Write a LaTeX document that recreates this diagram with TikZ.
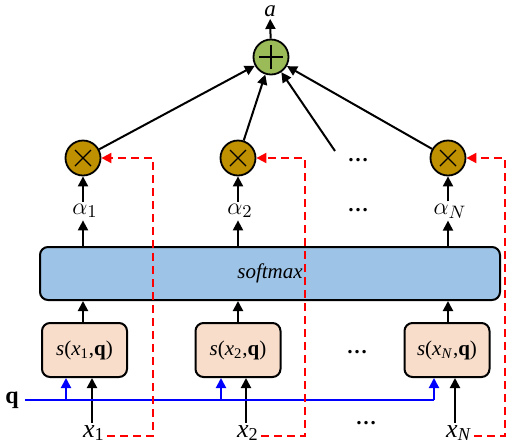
\documentclass[tikz,border=0pt]{standalone}
\usepackage{fontspec}
\setmainfont{Liberation Serif}
\usetikzlibrary{arrows.meta,calc}
\definecolor{plusgreen}{HTML}{9BBB59}
\definecolor{timesgold}{HTML}{BF9000}
\definecolor{smblue}{HTML}{9DC3E6}
\definecolor{speach}{HTML}{F8DDCB}
\definecolor{qblue}{HTML}{0000FF}
\definecolor{dred}{HTML}{FF0000}
\tikzset{
  arr/.style={line width=1pt,-{Triangle[length=5pt,width=5pt]}},
  bluearr/.style={line width=1pt,draw=qblue,-{Triangle[length=5pt,width=5pt]},qblue},
  reddash/.style={line width=1pt,draw=dred,dash pattern=on 4pt off 2.5pt,-{Triangle[length=5pt,width=5pt]},dred},
  mulnode/.style={circle,draw,line width=0.9pt,fill=timesgold,minimum size=17.5pt,inner sep=0pt},
  addnode/.style={circle,draw,line width=0.9pt,fill=plusgreen,minimum size=17.5pt,inner sep=0pt},
  sbox/.style={draw,line width=1pt,rounded corners=4pt,fill=speach,minimum width=42.5pt,minimum height=27pt,inner sep=0pt},
  smbox/.style={draw,line width=1pt,rounded corners=4pt,fill=smblue,minimum width=230pt,minimum height=26.5pt,inner sep=0pt},
  lbl/.style={inner sep=1pt},
  biglbl/.style={inner sep=1pt,font=\fontsize{13}{15}\selectfont},
}
\begin{document}
\begin{tikzpicture}[x=0.5pt,y=-0.5pt,font=\fontsize{10.5}{12}\selectfont]
\useasboundingbox (0,0) rectangle (515,446);
% top adder
\node[addnode] (plus) at (271,57) {};
\draw[line width=0.7pt] ($(plus.center)+(0,-12)$) -- ($(plus.center)+(0,12)$)
  ($(plus.center)+(-12,0)$) -- ($(plus.center)+(12,0)$);
\node[lbl,font=\fontsize{11.5}{13}\selectfont] (a) at (270,11) {\textit{a}};
\draw[arr] (plus) -- (a);
% multipliers
\node[mulnode] (m1) at (83,158) {};
\node[mulnode] (m2) at (238,158) {};
\node[mulnode] (mN) at (448,158) {};
\foreach \m in {m1,m2,mN}{
  \draw[line width=0.7pt] ($(\m.center)+(-8,-8)$) -- ($(\m.center)+(8,8)$)
    ($(\m.center)+(-8,8)$) -- ($(\m.center)+(8,-8)$);
}
\node[lbl] (dtop) at (358,160) {\textbf{\ldots}};
\coordinate (dline) at (335,151);
\draw[arr] (m1) -- (plus);
\draw[arr] (m2) -- (plus);
\draw[arr] (dline) -- (plus);
\draw[arr] (mN) -- (plus);
% alphas
\node[biglbl] (al1) at (85,211) {$\alpha_1$};
\node[biglbl] (al2) at (240,211) {$\alpha_2$};
\node[biglbl] (alN) at (450,211) {$\alpha_N$};
\node[lbl] (dal) at (358,210) {\textbf{\ldots}};
\draw[arr] (al1.north -| m1) -- (m1);
\draw[arr] (al2.north -| m2) -- (m2);
\draw[arr] (alN.north -| mN) -- (mN);
% softmax
\node[smbox] (sm) at (270,273.5) {\textit{softmax}};
\draw[arr] (sm.north -| m1) -- (al1.south -| m1);
\draw[arr] (sm.north -| m2) -- (al2.south -| m2);
\draw[arr] (sm.north -| mN) -- (alN.south -| mN);
% score boxes
\node[sbox] (s1) at (84.5,350) {\textit{s}(\textit{x}\textsubscript{1},\textbf{q})};
\node[sbox] (s2) at (238,350) {\textit{s}(\textit{x}\textsubscript{2},\textbf{q})};
\node[sbox] (sN) at (447,350) {\textit{s}(\textit{x}\textsubscript{\textit{N}},\textbf{q})};
\node[lbl] (dmid) at (357,352) {\textbf{\ldots}};
\draw[arr] (s1.north -| m1) -- (sm.south -| m1);
\draw[arr] (s2.north -| m2) -- (sm.south -| m2);
\draw[arr] (sN.north -| mN) -- (sm.south -| mN);
% inputs
\node[biglbl] (x1) at (94,433) {\textit{x}\textsubscript{1}};
\node[biglbl] (x2) at (248,433) {\textit{x}\textsubscript{2}};
\node[biglbl] (xN) at (459,433) {\textit{x}\textsubscript{\textit{N}}};
\node[lbl] (dbot) at (366,423) {\textbf{\ldots}};
\coordinate (i1) at (92,0);
\coordinate (i2) at (246,0);
\coordinate (iN) at (455,0);
\draw[arr] (i1 |- x1.north) -- (i1 |- s1.south);
\draw[arr] (i2 |- x2.north) -- (i2 |- s2.south);
\draw[arr] (iN |- xN.north) -- (iN |- sN.south);
% query line
\node[lbl,font=\fontsize{12}{14}\selectfont] (q) at (12,400) {\textbf{q}};
\coordinate (qs) at (25,400);
\coordinate (q1) at (66,400);
\coordinate (q2) at (221,400);
\coordinate (qN) at (434,400);
\draw[line width=1pt,qblue] (qs) -- (qN);
\draw[bluearr] (q1) -- (q1 |- s1.south);
\draw[bluearr] (q2) -- (q2 |- s2.south);
\draw[bluearr] (qN) -- (qN |- sN.south);
% red dashed feed
\coordinate (r1) at (153,436);
\coordinate (r2) at (305,436);
\coordinate (rN) at (505,436);
\draw[reddash] (x1.east |- r1) -- (r1) -- (r1 |- m1) -- (m1);
\draw[reddash] (x2.east |- r2) -- (r2) -- (r2 |- m2) -- (m2);
\draw[reddash] (xN.east |- rN) -- (rN) -- (rN |- mN) -- (mN);
\end{tikzpicture}
\end{document}
